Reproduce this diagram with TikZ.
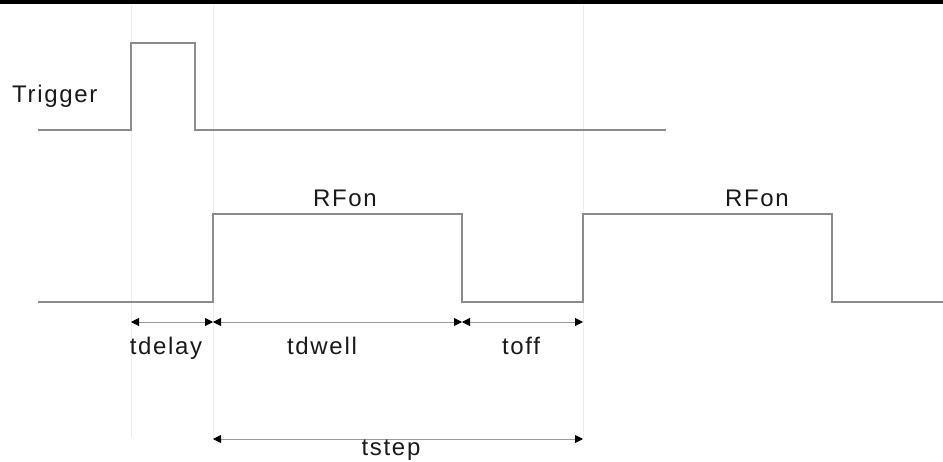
\documentclass[tikz,border=0pt]{standalone}
\usepackage{fontspec}
\setmainfont[LetterSpace=7]{Liberation Sans}
\usetikzlibrary{arrows.meta}
\definecolor{sig}{HTML}{8C8C8C}
\definecolor{guide}{HTML}{ECECEC}
\definecolor{dim}{HTML}{9A9A9A}
\tikzset{
  signal/.style={draw=sig, line width=1.4pt, line join=miter},
  guideline/.style={draw=guide, line width=1pt},
  dimline/.style={draw=dim, line width=0.9pt,
    {Triangle[length=8pt,width=8pt,color=black]}-{Triangle[length=8pt,width=8pt,color=black]}},
  lbl/.style={font=\fontsize{24}{24}\selectfont, text=black!90, inner sep=0pt, anchor=base}
}
\begin{document}
\begin{tikzpicture}[x=1pt,y=-1pt]
  \useasboundingbox (0,0) rectangle (943,462);
  % black rule along the top edge
  \fill[black] (0,0) rectangle (943,4);

  % vertical timing references
  \coordinate (g1t) at (131,5);  \coordinate (g1b) at (131,438);
  \coordinate (g2t) at (213,5);  \coordinate (g2b) at (213,439);
  \coordinate (g3t) at (583,5);  \coordinate (g3b) at (583,438);
  \draw[guideline] (g1t) -- (g1b);
  \draw[guideline] (g2t) -- (g2b);
  \draw[guideline] (g3t) -- (g3b);

  % trigger pulse
  \draw[signal] (38,130) -- (131,130) -- (131,43) -- (195,43) -- (195,130) -- (666,130);
  \node[lbl, anchor=base west] (trig) at (12,103) {Trigger};

  % RF on/off waveform
  \draw[signal] (38,302) -- (213,302) -- (213,214) -- (462,214) -- (462,302)
    -- (583,302) -- (583,214) -- (832,214) -- (832,302) -- (943,302);
  \node[lbl] (rf1) at (345,207) {RFon};
  \node[lbl] (rf2) at (757,207) {RFon};

  % interval markers
  \coordinate (a0) at (131,322);
  \coordinate (a1) at (213,322);
  \coordinate (a2) at (462,322);
  \coordinate (a3) at (583,322);
  \coordinate (b1) at (213,439);
  \coordinate (b3) at (583,439);
  \draw[dimline] (a0) -- (a1);
  \draw[dimline] (a1) -- (a2);
  \draw[dimline] (a2) -- (a3);
  \draw[dimline] (b1) -- (b3);

  \node[lbl] (td) at (166,355) {tdelay};
  \node[lbl] (tw) at (322,355) {tdwell};
  \node[lbl] (to) at (521,355) {toff};
  \node[lbl] (ts) at (391,455) {tstep};
\end{tikzpicture}
\end{document}
